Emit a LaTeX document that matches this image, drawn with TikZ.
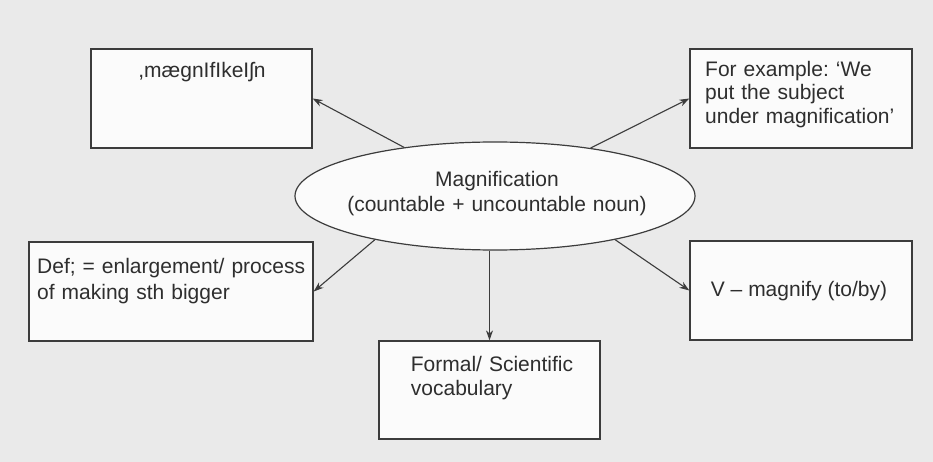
\documentclass[tikz,border=0pt]{standalone}
\usepackage{fontspec}
\setmainfont{Liberation Sans}
\usetikzlibrary{arrows.meta,shapes.geometric}
\definecolor{bg}{HTML}{EAEAEA}
\definecolor{ink}{HTML}{2E2E2E}
\definecolor{edge}{HTML}{3C3C3C}
\definecolor{paper}{HTML}{FBFBFB}
\frenchspacing
\begin{document}
\frenchspacing
\begin{tikzpicture}[x=1pt,y=-1pt,
  box/.style={draw=edge, line width=1.3pt, fill=paper, rectangle, inner sep=0pt},
  ell/.style={draw=edge, line width=1.2pt, fill=paper, ellipse, inner sep=0pt,
    minimum width=400pt, minimum height=108pt},
  txt/.style={text=ink, inner sep=0pt, align=left},
  arr/.style={draw=edge, line width=1.1pt, -{Stealth[length=10pt,width=7pt]}}]
\useasboundingbox (0,0) rectangle (933,462);
\fill[bg] (0,0) rectangle (933,462);
% boxes
\node[box, minimum width=221pt, minimum height=99pt] (b1) at (201.5,98.5) {};
\node[box, minimum width=222pt, minimum height=99pt] (b2) at (801,98.5) {};
\node[box, minimum width=284pt, minimum height=99pt] (b3) at (171,291.5) {};
\node[box, minimum width=222pt, minimum height=99pt] (b4) at (801,290.5) {};
\node[box, minimum width=221pt, minimum height=98pt] (b5) at (489.5,390) {};
% texts
\node[txt, anchor=base, font=\fontsize{21}{24}\selectfont] (t1) at (202,78) {,mægnIfIkeIʃn};
\node[txt, anchor=base west, text width=205pt, font=\fontsize{21}{23.3}\selectfont] (t2) at (705,76.7)
  {For example: ‘We\\put the subject\\under magnification’};
\node[txt, anchor=base west, text width=275pt, font=\fontsize{21}{26}\selectfont] (t3) at (37,273)
  {Def; = enlargement/ process\\of making sth bigger};
\node[txt, anchor=base west, font=\fontsize{21}{24}\selectfont] (t4) at (710.7,296.7)
  {V – magnify (to/by)};
\node[txt, anchor=base west, text width=185pt, font=\fontsize{21}{23.3}\selectfont] (t5) at (410.7,371.7)
  {Formal/ Scientific\\vocabulary};
% centre
\node[ell] (c) at (495,196) {};
\node[txt, align=center, text width=330pt, anchor=base, font=\fontsize{21}{25}\selectfont] (ct) at (497,186.7)
  {Magnification\\(countable + uncountable noun)};
% arrows
\draw[arr] (c) -- (b1.east);
\draw[arr] (c) -- (b2.west);
\draw[arr] (c.200) -- (b3.east);
\draw[arr] (c.340) -- (b4.west);
\draw[arr] (c.south -| b5.north) -- (b5.north);
\end{tikzpicture}
\end{document}
